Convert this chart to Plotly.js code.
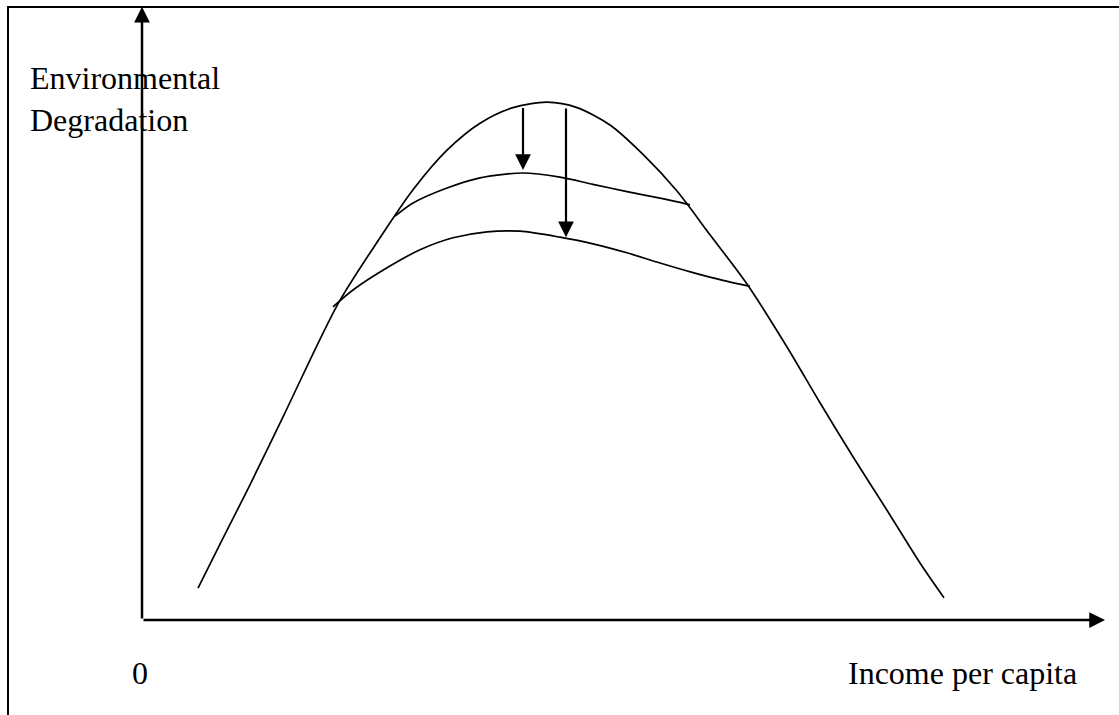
<!DOCTYPE html>
<html>
<head>
<meta charset="utf-8">
<script src="https://cdn.plot.ly/plotly-3.0.1.min.js"></script>
<style>
  html, body { margin: 0; padding: 0; background: #fff; }
  #plot { width: 1119px; height: 715px; }
</style>
</head>
<body>
<div id="plot"></div>
<script>
// Kurva Kuznets lingkungan (satuan bebas)
const ekcX = [5.6, 8.0, 10.7, 14.2, 19.6, 23.8, 27.1, 30.5, 33.8, 37.1, 40.5, 43.5, 46.8, 50.1, 53.5, 56.8, 60.5, 64.5, 67.8, 71.1, 74.5, 77.8, 80.2];
const ekcY = [5.3, 13.3, 22.2, 34.2, 52.7, 63.7, 71.7, 78.3, 82.8, 85.4, 86.3, 85.4, 82.5, 77.6, 71.5, 64.2, 56.0, 45.5, 36.2, 27.2, 18.3, 9.5, 3.7];

// kurva tengah (lebih datar)
const midX = [25.3, 27.1, 30.5, 33.8, 38.1, 41.8, 45.1, 48.5, 51.8, 54.8];
const midY = [67.3, 69.5, 72.0, 73.7, 74.5, 73.8, 72.6, 71.4, 70.3, 69.2];

// kurva bawah
const lowX = [19.1, 21.1, 24.5, 27.8, 31.1, 34.5, 37.8, 41.8, 45.1, 48.5, 51.8, 55.1, 58.1, 60.8];
const lowY = [52.2, 55.0, 58.7, 61.7, 63.7, 64.7, 64.8, 63.8, 62.7, 61.2, 59.5, 57.9, 56.6, 55.6];

// panah ke bawah: posisi x, awal dan ujung
const arrowX = [38.1, 42.4];
const arrowFrom = [85.6, 85.5];
const arrowTo = [75.0, 63.8];

// ujung sumbu
const axisTipX = 96.3;
const axisTipY = 102.2;

const serif = 'Liberation Serif, Times New Roman, serif';

const curve = (x, y) => ({
    x: x, y: y, mode: 'lines', type: 'scatter',
    line: { color: '#000', width: 1.7, shape: 'spline', smoothing: 0.8 },
    hoverinfo: 'skip', showlegend: false
});

const data = [curve(ekcX, ekcY), curve(midX, midY), curve(lowX, lowY)];

// panah sumbu dan panah penurunan dibuat dari anotasi
const arrow = (x, y, ax, ay, w) => ({
    x: x, y: y, ax: ax, ay: ay, xref: 'x', yref: 'y', axref: 'x', ayref: 'y',
    text: '', showarrow: true, arrowhead: 2, arrowsize: 3 / w * 1.05, arrowwidth: w,
    arrowcolor: '#000', standoff: 0, startstandoff: 0
});

const annotations = [
    arrow(0, axisTipY, 0, 0, 2.5),
    arrow(axisTipX, 0, 0, 0, 2.5)
];
arrowX.forEach((x, i) => {
    annotations.push(arrow(x, arrowTo[i], x, arrowFrom[i], 2.2));
});

const label = (text, x, y, anchor) => ({
    text: text, x: x, y: y, xref: 'x', yref: 'y', xanchor: anchor, yanchor: 'middle',
    showarrow: false, align: 'left', font: { family: serif, size: 32, color: '#000' }
});
annotations.push(label('Environmental<br>Degradation', -11.4, 86.8, 'left'));
annotations.push(label('0', -0.2, -8.8, 'center'));
annotations.push(label('Income per capita', 70.4, -8.8, 'left'));

const layout = {
    width: 1119, height: 715,
    margin: { l: 0, r: 0, t: 0, b: 0 },
    paper_bgcolor: '#fff', plot_bgcolor: '#fff',
    xaxis: { range: [-14.2, 97.7], visible: false, fixedrange: true },
    yaxis: { range: [-15.833, 103.333], visible: false, fixedrange: true },
    showlegend: false,
    annotations: annotations,
    shapes: [{
        // bingkai gambar
        type: 'rect', xref: 'paper', yref: 'paper',
        x0: 8 / 1119, x1: 1.02, y0: -0.02, y1: 1 - 7 / 715,
        line: { color: '#000', width: 2 }
    }]
};

Plotly.newPlot('plot', data, layout, { staticPlot: true });
</script>
</body>
</html>
